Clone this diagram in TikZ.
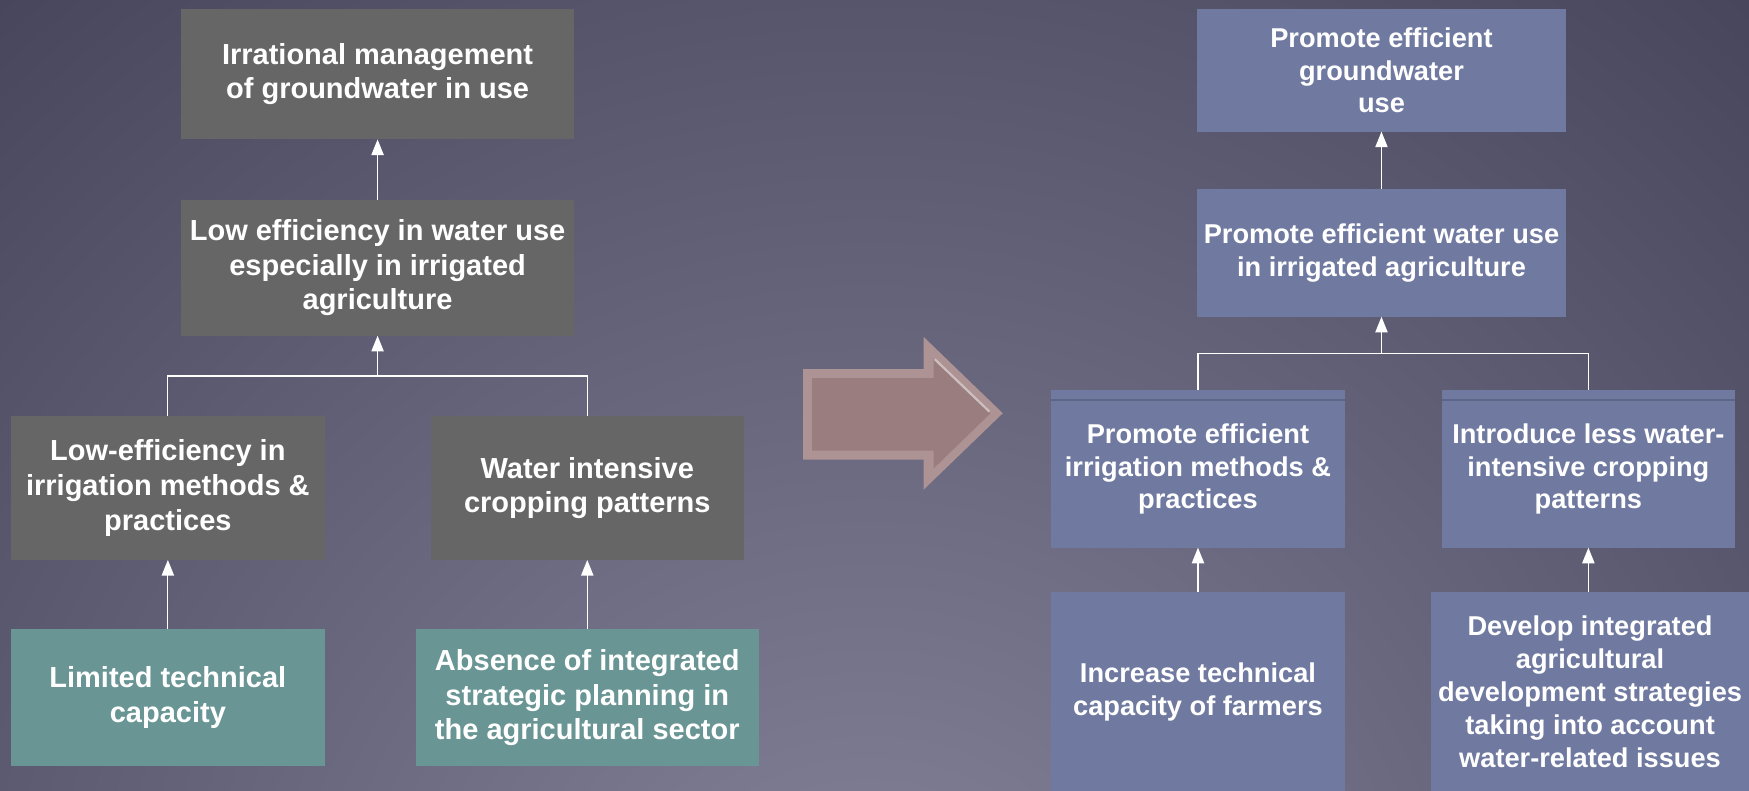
\documentclass[tikz,border=0pt]{standalone}
\usepackage{fontspec}
\setmainfont{Liberation Sans}
\usetikzlibrary{arrows.meta}
\definecolor{bgl}{HTML}{86849A}
\definecolor{bgd}{HTML}{44435A}
\definecolor{greybox}{HTML}{666666}
\definecolor{tealbox}{HTML}{699694}
\definecolor{bluebox}{HTML}{707AA1}
\definecolor{stripc}{HTML}{5C6588}
\definecolor{arrowrim}{HTML}{AE9394}
\definecolor{arrowin}{HTML}{9A7D7E}
\definecolor{arrowhi}{HTML}{CDBFBF}
\begin{document}
\begin{tikzpicture}[x=1pt,y=-1pt,
  boxbase/.style={text=white, align=center, inner sep=0pt, outer sep=0pt},
  lbox/.style={boxbase, fill=greybox, font=\fontsize{26}{31}\selectfont\bfseries},
  tbox/.style={boxbase, fill=tealbox, font=\fontsize{26}{31}\selectfont\bfseries},
  rbox/.style={boxbase, fill=bluebox, font=\fontsize{24.4}{29.5}\selectfont\bfseries},
  conn/.style={draw=white, line width=1.1pt},
  arr/.style={conn, -{Triangle[width=11pt,length=14pt]}}]
\useasboundingbox (0,0) rectangle (1568,709);
\begin{scope}
\clip (0,0) rectangle (1568,709);
\shade[inner color=bgl, outer color=bgd] (780,900) circle (1250);
\end{scope}

% left side
\node[lbox, minimum width=353pt, minimum height=117pt] (b1) at (338.5,66.5) {Irrational management\\of groundwater in use};
\node[lbox, minimum width=353pt, minimum height=122pt] (b2) at (338.5,240) {Low efficiency in water use\\especially in irrigated\\agriculture};
\node[lbox, minimum width=281pt, minimum height=129pt] (b3) at (150.5,437.5) {Low-efficiency in\\irrigation methods \&\\practices};
\node[lbox, minimum width=281pt, minimum height=129pt] (b4) at (526.5,437.5) {Water intensive\\cropping patterns};
\node[tbox, minimum width=281pt, minimum height=123pt] (b5) at (150.5,625.5) {Limited technical\\capacity};
\node[tbox, minimum width=307pt, minimum height=123pt] (b6) at (526.5,625.5) {Absence of integrated\\strategic planning in\\the agricultural sector};

\coordinate (j1) at (338.5,337);
\draw[arr] (b2.north) -- (b1.south);
\draw[conn] (b3.north) |- (j1) -| (b4.north);
\draw[arr] (j1) -- (b2.south);
\draw[arr] (b5.north) -- (b3.south);
\draw[arr] (b6.north) -- (b4.south);

% big arrow
\fill[arrowrim] (720,331) -- (828,331) -- (828,302) -- (899,370.5) -- (828,439) -- (828,412) -- (720,412) -- cycle;
\fill[arrowin] (728,339) -- (837,339) -- (837,321) -- (888,370.5) -- (837,420) -- (837,404) -- (728,404) -- cycle;
\draw[arrowhi, line width=2pt] (838,322) -- (887,369);

% right side
\node[rbox, minimum width=331pt, minimum height=110pt] (r1) at (1238.5,63) {Promote efficient\\groundwater\\use};
\node[rbox, minimum width=331pt, minimum height=115pt] (r2) at (1238.5,226.5) {Promote efficient water use\\in irrigated agriculture};
\node[rbox, minimum width=264pt, minimum height=141pt] (r3) at (1074,420.5) {Promote efficient\\irrigation methods \&\\practices};
\node[rbox, minimum width=262pt, minimum height=141pt] (r4) at (1424,420.5) {Introduce less water-\\intensive cropping\\patterns};
\node[rbox, minimum width=264pt, minimum height=178pt] (r5) at (1074,620) {Increase technical\\capacity of farmers};
\node[rbox, minimum width=285pt, minimum height=178pt] (r6) at (1425.5,620) {Develop integrated\\agricultural\\development strategies\\taking into account\\water-related issues};

\draw[stripc, line width=1.5pt] ([yshift=-8.5pt]r3.north west) -- ([yshift=-8.5pt]r3.north east);
\draw[stripc, line width=1.5pt] ([yshift=-8.5pt]r4.north west) -- ([yshift=-8.5pt]r4.north east);

\coordinate (j2) at (1238.5,317);
\draw[arr] (r2.north) -- (r1.south);
\draw[conn] (r3.north) |- (j2) -| (r4.north);
\draw[arr] (j2) -- (r2.south);
\draw[arr] (r5.north) -- (r3.south);
\draw[arr] (r6.north -| r4.south) -- (r4.south);
\end{tikzpicture}
\end{document}
